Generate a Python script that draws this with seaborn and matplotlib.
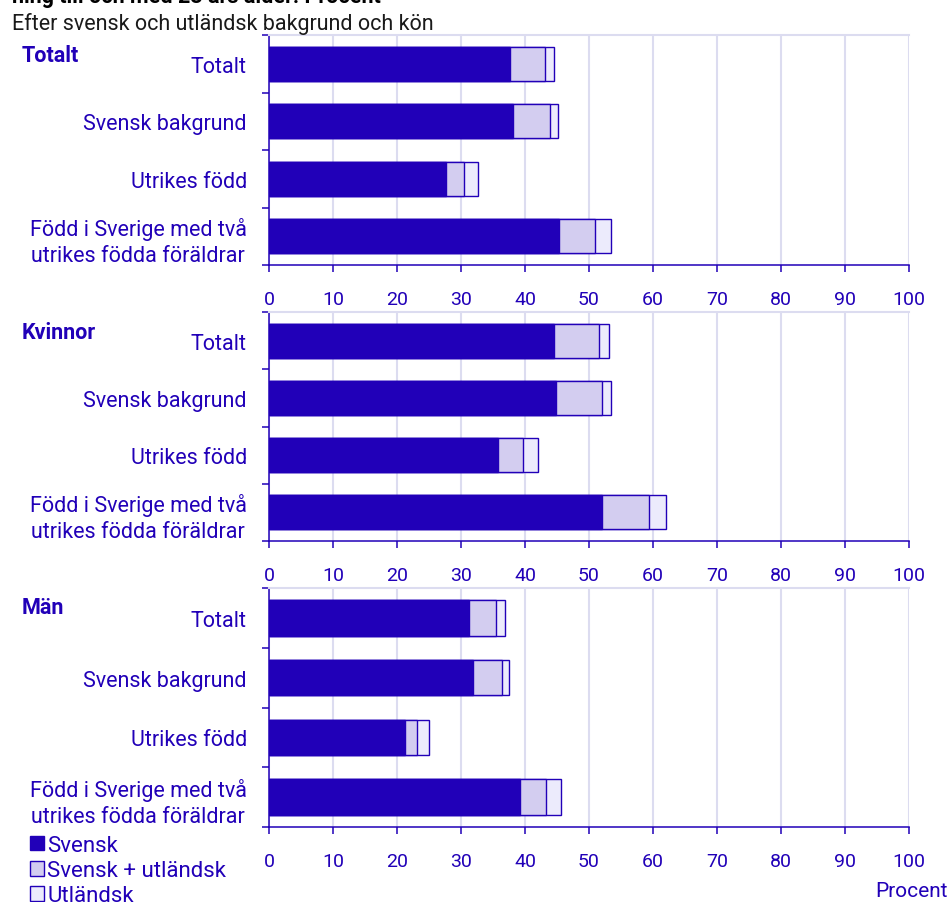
import pandas as pd
import matplotlib
matplotlib.use("Agg")
import matplotlib.pyplot as plt
from matplotlib.patches import Patch
import seaborn as sns

sns.set_style("white")
plt.rcParams['font.family'] = ['Roboto', 'DejaVu Sans']

# === data ===
kategorier = ["Totalt", "Svensk bakgrund", "Utrikes född",
              "Född i Sverige med två\nutrikes födda föräldrar"]
paneler = ["Totalt", "Kvinnor", "Män"]

svensk_totalt = [37.6, 38.2, 27.6, 45.3]
blandad_totalt = [5.6, 5.7, 2.8, 5.6]
utl_totalt = [1.4, 1.3, 2.2, 2.5]

svensk_kvinnor = [44.6, 44.8, 35.8, 52.1]
blandad_kvinnor = [6.9, 7.3, 3.9, 7.2]
utl_kvinnor = [1.7, 1.4, 2.4, 2.8]

svensk_man = [31.3, 31.9, 21.2, 39.2]
blandad_man = [4.2, 4.5, 2.0, 4.1]
utl_man = [1.3, 1.1, 1.8, 2.3]

serier = ["Svensk", "Svensk + utländsk", "Utländsk"]
x_ticks = list(range(0, 101, 10))

# === stil ===
blue = "#2100b8"
mid = "#d3cdf0"
light = "#ecebfc"
grid_col = "#dcdcf0"

W, H = 950, 903
fig = plt.figure(figsize=(W / 100, H / 100), dpi=100)

# (top, bottom) i pixlar för varje panel
panel_px = [(36, 266), (313, 542), (589, 828)]
panel_label_y = [56, 333, 608]
data = [
    (svensk_totalt, blandad_totalt, utl_totalt),
    (svensk_kvinnor, blandad_kvinnor, utl_kvinnor),
    (svensk_man, blandad_man, utl_man),
]

for i, (namn, (s, b, u), (top, bot)) in enumerate(zip(paneler, data, panel_px)):
    ax = fig.add_axes([269 / W, 1 - bot / H, 640 / W, (bot - top) / H])
    df = pd.DataFrame({"kategori": kategorier, "svensk": s, "blandad": b, "utl": u})
    df["cum2"] = df["svensk"] + df["blandad"]
    df["cum3"] = df["cum2"] + df["utl"]

    # staplade staplar: ritas som kumulativa summor ovanpå varandra
    for col, c in [("cum3", light), ("cum2", mid), ("svensk", blue)]:
        sns.barplot(data=df, x=col, y="kategori", orient="h", color=c,
                    saturation=1, width=0.59, edgecolor=blue, linewidth=1.0, ax=ax)

    ax.set_xlim(0, 100)
    ax.set_ylim(3.5, -0.5)
    ax.set_xticks(x_ticks)
    ax.set_xticklabels([str(t) for t in x_ticks])
    ax.set_axisbelow(True)
    ax.xaxis.grid(True, color=grid_col, linewidth=1.5)
    ax.yaxis.grid(False)
    ax.set_xlabel("")
    ax.set_ylabel("")

    ax.set_yticks(range(len(kategorier)))
    ax.set_yticklabels(kategorier)
    ax.set_yticks([-0.5, 0.5, 1.5, 2.5, 3.5], minor=True)
    for lab in ax.get_yticklabels():
        lab.set_linespacing(1.35)
        lab.set_multialignment("center")

    ax.tick_params(axis="y", which="major", length=0, pad=16, labelsize=15.5, labelcolor=blue)
    ax.tick_params(axis="y", which="minor", left=True, length=5, width=1.1, color=blue)
    ax.tick_params(axis="x", bottom=True, length=5, width=1.1, color=blue,
                   labelsize=14, labelcolor=blue, pad=13)

    ax.spines["right"].set_visible(False)
    ax.spines["top"].set_color(grid_col)
    ax.spines["top"].set_linewidth(1.5)
    for sp in ["left", "bottom"]:
        ax.spines[sp].set_color(blue)
        ax.spines[sp].set_linewidth(1.1)

    fig.text(22 / W, 1 - panel_label_y[i] / H, namn, fontsize=15.5, fontweight="bold",
             color=blue, ha="left", va="center")

# rubriker (översta raden är avskuren i originalet)
fig.text(12 / W, 1 - 3 / H, "ning till och med 23 års ålder. Procent", fontsize=15.5,
         fontweight="bold", color="black", ha="left", va="baseline")
fig.text(12 / W, 1 - 30 / H, "Efter svensk och utländsk bakgrund och kön", fontsize=15.5,
         color="#1a1a1a", ha="left", va="baseline")
fig.text(948 / W, 1 - 897 / H, "Procent", fontsize=15, color=blue, ha="right", va="baseline")

# legend
handles = [Patch(facecolor=c, edgecolor=blue, linewidth=1.0) for c in [blue, mid, light]]
leg = fig.legend(handles, serier, loc="upper left", bbox_to_anchor=(30 / W, 1 - 836 / H),
                 frameon=False, fontsize=16, handlelength=0.63, handleheight=0.63,
                 handletextpad=0.15, labelspacing=0.19, borderpad=0, borderaxespad=0)
for t in leg.get_texts():
    t.set_color(blue)

fig.savefig("out.png", dpi=100)
